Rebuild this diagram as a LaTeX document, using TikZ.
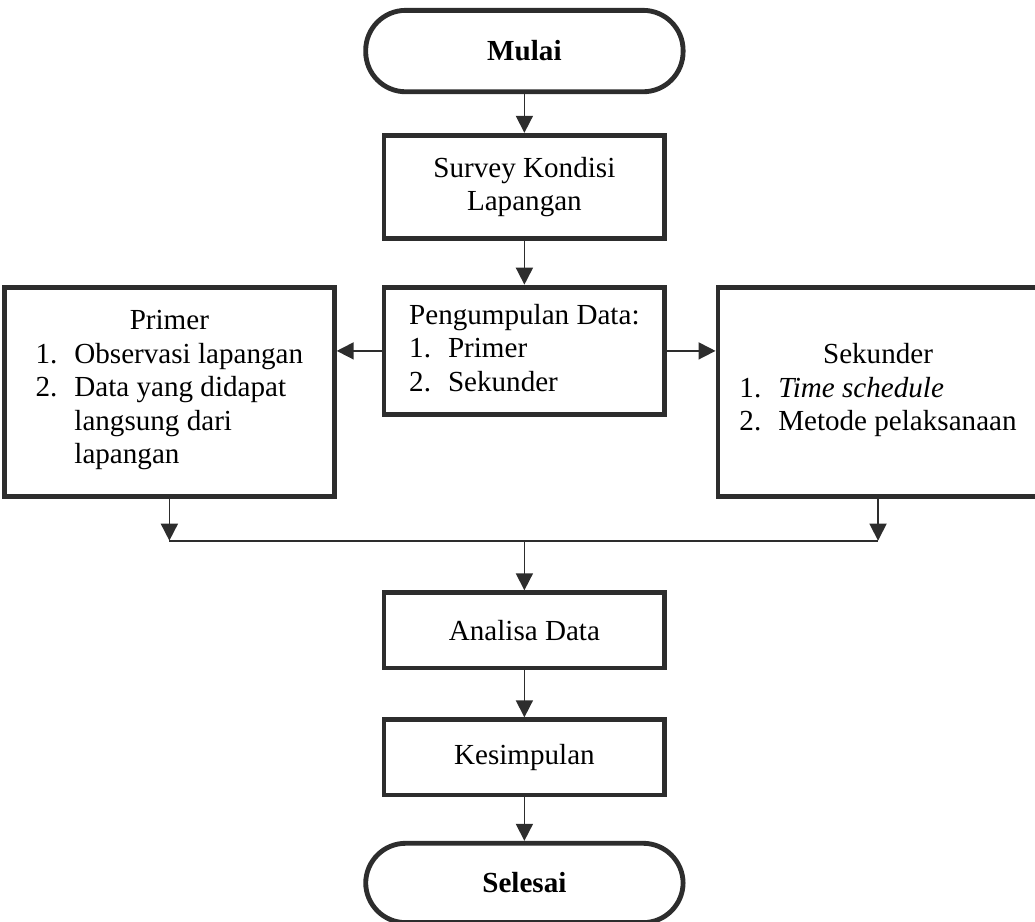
\documentclass[tikz,border=0pt]{standalone}
\usepackage{fontspec}
\setmainfont{Liberation Serif}
\usepackage{tikz}
\usetikzlibrary{positioning}
\usetikzlibrary{arrows.meta}
\definecolor{inkgray}{RGB}{45,45,45}
\newcommand{\boxfont}{\fontsize{12pt}{13.8pt}\selectfont}

\tikzset{
    termbox/.style={draw=inkgray, line width=2pt, rounded corners=0.58cm, minimum width=4.6cm, minimum height=1.18cm, inner sep=0pt, font=\boxfont\bfseries},
    flowbox/.style={draw=inkgray, line width=2pt, minimum width=4.07cm, inner sep=0pt, align=center, font=\boxfont},
    databox/.style={flowbox, minimum height=3.04cm},
    arr/.style={draw=inkgray, line width=0.7pt, -{Triangle[width=7pt,length=7pt]}},
}

\begin{document}
\begin{tikzpicture}
    \useasboundingbox (0,0) rectangle (15,-13.36);

    %Main column: start, survey, data collection
    \node[termbox] (mulai) at (7.6,-0.74) {Mulai};
    \node[flowbox, minimum height=1.5cm, below=0.56cm of mulai] (survey) {Survey Kondisi\\Lapangan};
    \node[flowbox, minimum height=1.85cm, below=0.63cm of survey] (peng)
    {\begin{tabular}{@{}l@{\hspace{7pt}}l@{}}
            \multicolumn{2}{@{}l@{}}{Pengumpulan Data:} \\
            1. & Primer                                 \\
            2. & Sekunder
        \end{tabular}};

    % ------------------

    %Primer data (left)
    \node[databox, minimum width=4.78cm, left=0.65cm of peng.north west, anchor=north east] (primer)
    {Primer\\
        \begin{tabular}[t]{@{}l@{\hspace{7pt}}l@{}}
            1. & Observasi lapangan \\
            2. & Data yang didapat  \\
               & langsung dari      \\
               & lapangan
        \end{tabular}};

    %Sekunder data (right)
    \node[databox, minimum width=4.64cm, right=0.7cm of peng.north east, anchor=north west] (sekunder)
    {Sekunder\\
        \begin{tabular}[t]{@{}l@{\hspace{7pt}}l@{}}
            1. & \textit{Time schedule} \\
            2. & Metode pelaksanaan
        \end{tabular}};

    % ------------------

    %joining line
    \coordinate[below=0.6cm of primer] (pj);
    \coordinate (sj) at (sekunder |- pj);
    \coordinate (mj) at (peng |- pj);

    %Main column: analysis and end
    \node[flowbox, minimum height=1.09cm, below=0.72cm of mj] (analisa) {Analisa Data};
    \node[flowbox, minimum height=1.09cm, below=0.68cm of analisa] (kesimpulan) {Kesimpulan};
    \node[termbox, minimum height=1.15cm, below=0.63cm of kesimpulan] (selesai) {Selesai};

    % arrows
    \path
    (mulai) edge[arr] (survey)
    (survey) edge[arr] (peng)
    (peng.west) edge[arr] (peng.west -| primer.east)
    (peng.east) edge[arr] (peng.east -| sekunder.west)
    (primer) edge[arr] (pj)
    (sekunder) edge[arr] (sj)
    (mj) edge[arr] (analisa)
    (analisa) edge[arr] (kesimpulan)
    (kesimpulan) edge[arr] (selesai)
    ;
    \draw[draw=inkgray, line width=0.7pt] (pj) -- (sj);
\end{tikzpicture}
\end{document}
